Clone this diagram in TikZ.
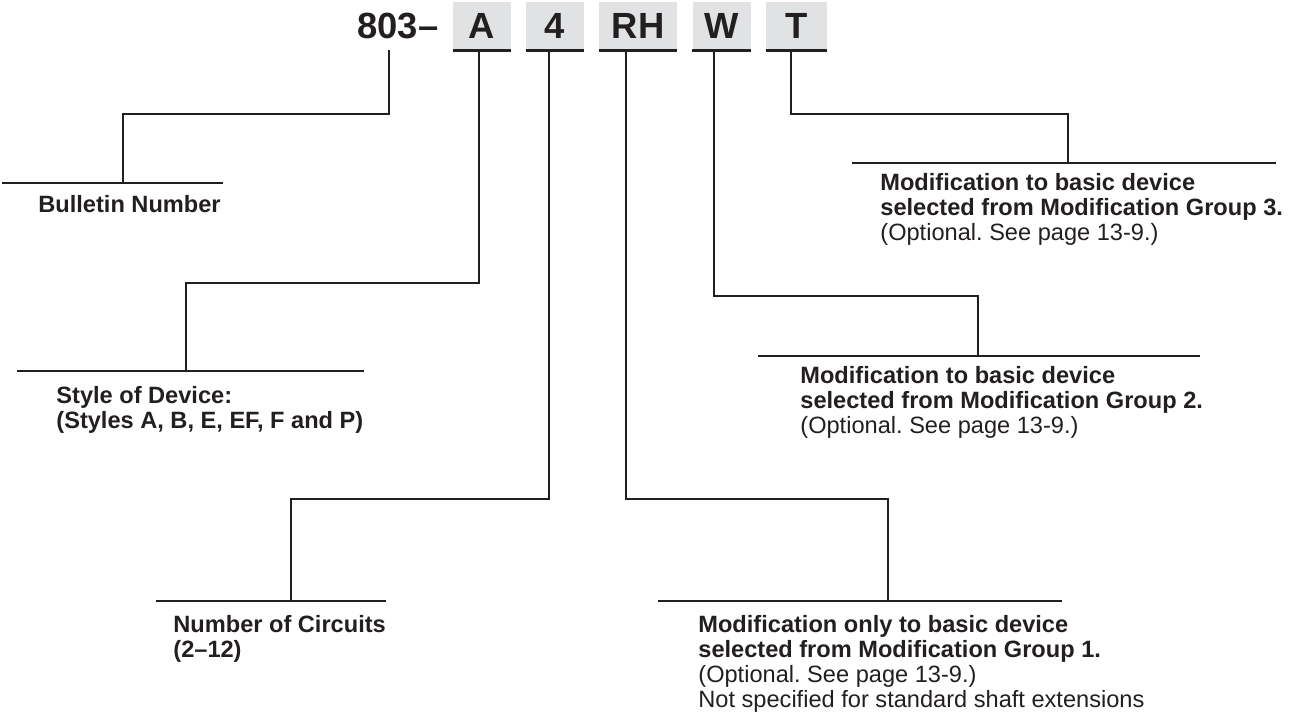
\documentclass[tikz,border=0pt]{standalone}
\usepackage{fontspec}
\setmainfont{Liberation Sans}
\usetikzlibrary{positioning}
\definecolor{inkcol}{RGB}{35, 31, 32}
\definecolor{boxcol}{RGB}{225, 226, 228}
\frenchspacing

\begin{document}
\begin{tikzpicture}[
    x=0.5pt, y=-0.5pt,
    leader/.style={draw=inkcol, line width=1pt},
    underline/.style={draw=inkcol, line width=1.5pt},
    headtext/.style={font=\fontsize{18.2}{20}\selectfont\bfseries, text=inkcol, inner sep=0pt},
    codebox/.style={headtext, fill=boxcol, minimum height=24pt, minimum width=29pt},
    desc/.style={anchor=north west, inner sep=0pt, align=left, text=inkcol,
                 font=\fontsize{11.8}{12.5}\selectfont}
]
\useasboundingbox (0,0) rectangle (1302,715);

% Catalogue number
\node[headtext, anchor=base west] (bulletin) at (357,39) {803–};
\node[codebox] (cA)  at (482,26)   {A};
\node[codebox] (c4)  at (555,26)   {4};
\node[codebox, minimum width=39pt] (cRH) at (638,26) {RH};
\node[codebox] (cW)  at (721.5,26) {W};
\node[codebox, minimum width=30.5pt] (cT) at (796.5,26) {T};
\foreach \c in {cA,c4,cRH,cW,cT}
    \draw[underline] (\c.south west) -- (\c.south east);

% Bulletin number
\coordinate (tap803) at (389,50);
\coordinate (k803) at (123,114);
\coordinate (bar803a) at (2,183);
\coordinate (bar803b) at (223,183);
\draw[leader] (bar803a) -- (bar803b);
\draw[leader] (tap803) |- (k803) -- (k803 |- bar803a);
\node[desc] (bulletintxt) at (38,194.5) {\textbf{\strut Bulletin Number}};

% Style of device
\coordinate (kA) at (186,283);
\coordinate (barAa) at (17,371);
\coordinate (barAb) at (364,371);
\draw[leader] (barAa) -- (barAb);
\draw[leader] ([xshift=-1.5pt]cA.south) |- (kA) -- (kA |- barAa);
\node[desc] (styletxt) at (56,385.5)
    {\textbf{\strut Style of Device:}\\\textbf{(Styles A, B, E, EF, F and P)}};

% Number of circuits
\coordinate (k4) at (291,499);
\coordinate (bar4a) at (156,601);
\coordinate (bar4b) at (386,601);
\draw[leader] (bar4a) -- (bar4b);
\draw[leader] ([xshift=-3pt]c4.south) |- (k4) -- (k4 |- bar4a);
\node[desc] (circtxt) at (173,614.5)
    {\textbf{\strut Number of Circuits}\\\textbf{(2–12)}};

% Modification group 1
\coordinate (kRH) at (888,499);
\coordinate (barRHa) at (658,601);
\coordinate (barRHb) at (1062,601);
\draw[leader] (barRHa) -- (barRHb);
\draw[leader] ([xshift=-6pt]cRH.south) |- (kRH) -- (kRH |- barRHa);
\node[desc] (grp1txt) at (698,614.5)
    {\textbf{\strut Modification only to basic device}\\
     \textbf{selected from Modification Group 1.}\\
     (Optional. See page 13-9.)\\
     Not specified for standard shaft extensions};

% Modification group 2
\coordinate (kW) at (978,296);
\coordinate (barWa) at (758,356);
\coordinate (barWb) at (1200,356);
\draw[leader] (barWa) -- (barWb);
\draw[leader] ([xshift=-3.75pt]cW.south) |- (kW) -- (kW |- barWa);
\node[desc] (grp2txt) at (800,365.5)
    {\textbf{\strut Modification to basic device}\\
     \textbf{selected from Modification Group 2.}\\
     (Optional. See page 13-9.)};

% Modification group 3
\coordinate (kT) at (1068,114);
\coordinate (barTa) at (852,163);
\coordinate (barTb) at (1276,163);
\draw[leader] (barTa) -- (barTb);
\draw[leader] ([xshift=-2.75pt]cT.south) |- (kT) -- (kT |- barTa);
\node[desc] (grp3txt) at (880,172.5)
    {\textbf{\strut Modification to basic device}\\
     \textbf{selected from Modification Group 3.}\\
     (Optional. See page 13-9.)};

\end{tikzpicture}
\end{document}
